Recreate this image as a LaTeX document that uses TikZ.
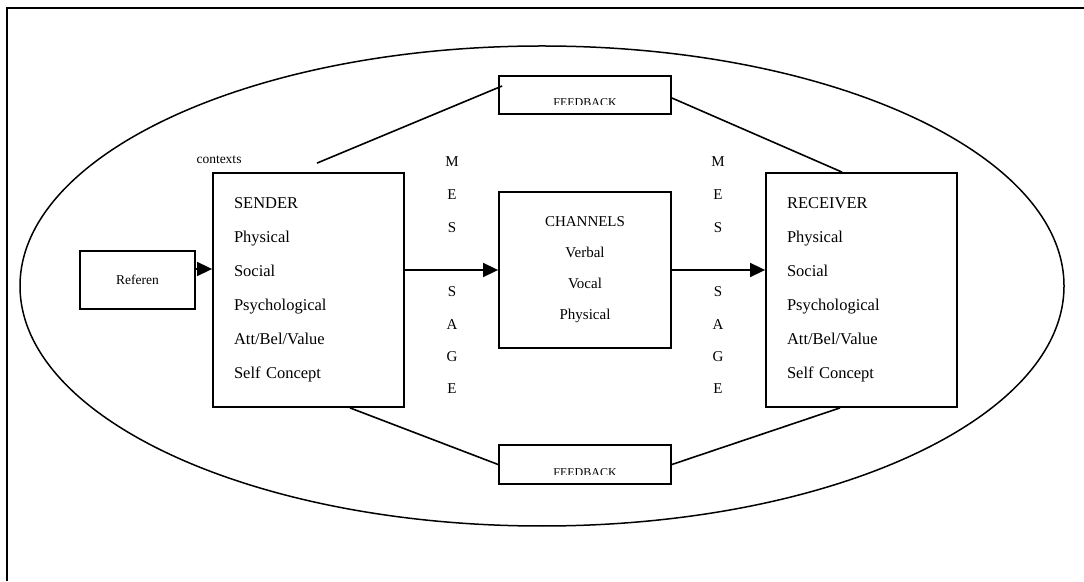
\documentclass[tikz,border=0pt]{standalone}
\usepackage{fontspec}
\setmainfont{Liberation Serif}
\usepackage{tikz}
\usetikzlibrary{arrows.meta, positioning, calc}

\begin{document}
\begin{tikzpicture}[x=1pt, y=1pt,
        party/.style={draw, line width=1.8pt, minimum height=234pt,
                      text width=149pt, inner xsep=21pt, align=left,
                      font=\fontsize{16.5}{34}\selectfont},
        chanbox/.style={draw, line width=1.8pt, minimum width=172pt,
                        minimum height=156pt, align=center,
                        font=\fontsize{15}{31}\selectfont},
        refbox/.style={draw, line width=1.8pt, minimum width=115pt,
                       minimum height=58pt, font=\fontsize{13.5}{16}\selectfont},
        fbbox/.style={draw, line width=1.8pt, minimum width=172pt,
                      minimum height=38pt, inner sep=0pt},
        fbtext/.style={anchor=base, font=\fontsize{12}{14}\selectfont},
        letter/.style={font=\fontsize{15}{18}\selectfont},
        arr/.style={-{Triangle[length=15pt, width=14pt]}, line width=1.6pt},
        fbline/.style={line width=1.6pt}
      ]
        \useasboundingbox (0,0) rectangle (1084,581);

        % page frame and context ellipse
        \draw[line width=2.2pt] (1084,573) -- (7,573) -- (7,0);
        \draw[line width=1.5pt] (542,295) ellipse [x radius=522, y radius=240];

        \node[refbox] (referen) at (137.5,301) {Referen};
        \node[party] (sender) at (308.5,291)
          {SENDER\\Physical\\Social\\Psychological\\Att/Bel/Value\\Self Concept};
        \node[chanbox] (channel) at (585,311) {CHANNELS\\Verbal\\Vocal\\Physical};
        \node[party] (receiver) at (861.5,291)
          {RECEIVER\\Physical\\Social\\Psychological\\Att/Bel/Value\\Self Concept};
        \node[fbbox] (fbtop) at (585,486) {};
        \node[fbbox, minimum height=39pt] (fbbot) at (585,116.5) {};
        \node[font=\fontsize{13.5}{16}\selectfont] (contexts) at (219,421) {contexts};

        % clipped feedback labels
        \begin{scope}
          \clip (fbtop.north west) rectangle ([yshift=10pt]fbtop.south east);
          \node[fbtext] (fbtoptxt) at ([yshift=8pt]fbtop.south) {FEEDBACK};
        \end{scope}
        \begin{scope}
          \clip (fbbot.north west) rectangle ([yshift=10pt]fbbot.south east);
          \node[fbtext] (fbbottxt) at ([yshift=8.5pt]fbbot.south) {FEEDBACK};
        \end{scope}

        % MESSAGE columns
        \foreach \ch/\yy [count=\i] in {M/419,E/386,S/353,S/289,A/256,G/224,E/192} {
          \node[letter] (msgl\i) at (452,\yy) {\ch};
          \node[letter] (msgr\i) at (718,\yy) {\ch};
        }

        \coordinate (refout) at ([yshift=11pt]referen.east);
        \draw[arr] (refout) -- (refout -| sender.west);
        \draw[arr] (sender.east |- channel) -- (channel.west);
        \draw[arr] (channel.east) -- (channel.east -| receiver.west);

        \draw[fbline] ([shift={(8.5,9)}]sender.north) -- ([shift={(4,9)}]fbtop.west);
        \draw[fbline] ([yshift=-3pt]fbtop.east) -- ([xshift=-19.5pt]receiver.north);
        \draw[fbline] ([xshift=41.5pt]sender.south) -- (fbbot.west);
        \draw[fbline] (fbbot.east) -- ([xshift=-21.5pt]receiver.south);
      \end{tikzpicture}
\end{document}
